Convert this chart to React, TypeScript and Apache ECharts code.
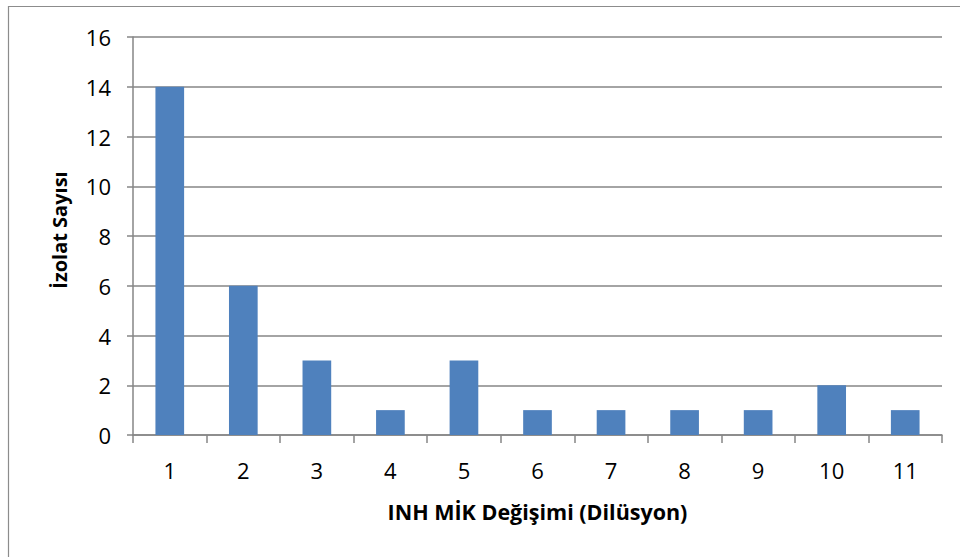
import React, { useEffect, useRef } from "react";
import * as echarts from "echarts";

const categories = ["1", "2", "3", "4", "5", "6", "7", "8", "9", "10", "11"];
const isolateCounts = [14, 6, 3, 1, 3, 1, 1, 1, 1, 2, 1];
const yTicks = { min: 0, max: 16, interval: 2 };

const FONT = "'Open Sans', 'Noto Sans', sans-serif";
const AXIS_GRAY = "#868686";

export default function App() {
  const ref = useRef<HTMLDivElement>(null);

  useEffect(() => {
    if (!ref.current) return;
    const chart = echarts.init(ref.current, undefined, { renderer: "svg" });
    chart.setOption({
      animation: false,
      backgroundColor: "#ffffff",
      graphic: [
        {
          type: "rect",
          shape: { x: 8.5, y: 6.5, width: 1000, height: 600 },
          style: { fill: "none", stroke: "#8c8c8c", lineWidth: 1.2 },
          silent: true,
        },
      ],
      grid: { left: 133, right: 18, top: 37, bottom: 122 },
      xAxis: {
        type: "category",
        data: categories,
        boundaryGap: true,
        name: "INH MİK Değişimi (Dilüsyon)",
        nameLocation: "middle",
        nameGap: 65,
        nameTextStyle: { fontFamily: FONT, fontWeight: "bold", fontSize: 21.5, color: "#000" },
        axisLine: { show: true, lineStyle: { color: AXIS_GRAY, width: 1.5 } },
        axisTick: { show: true, length: 8, alignWithLabel: false, lineStyle: { color: AXIS_GRAY, width: 1.5 } },
        axisLabel: { fontFamily: FONT, fontSize: 22, color: "#000", margin: 24 },
        splitLine: { show: false },
      },
      yAxis: {
        type: "value",
        min: yTicks.min,
        max: yTicks.max,
        interval: yTicks.interval,
        name: "İzolat Sayısı",
        nameLocation: "middle",
        nameRotate: 90,
        nameGap: 64,
        nameTextStyle: { fontFamily: FONT, fontWeight: "bold", fontSize: 20, color: "#000", padding: [0, 0, 0, 12] },
        axisLine: { show: true, lineStyle: { color: AXIS_GRAY, width: 1.5 } },
        axisTick: { show: true, inside: false, length: 6, lineStyle: { color: AXIS_GRAY, width: 1.5 } },
        axisLabel: { fontFamily: FONT, fontSize: 22, color: "#000", margin: 22 },
        splitLine: { show: true, lineStyle: { color: AXIS_GRAY, width: 1.5 } },
      },
      series: [
        {
          type: "bar",
          data: isolateCounts,
          barWidth: "39%",
          itemStyle: { color: "#4F81BD" },
        },
      ],
    });
    return () => chart.dispose();
  }, []);

  return (
    <div
      ref={ref}
      style={{ position: "absolute", left: 0, top: 0, width: 960, height: 557 }}
    />
  );
}
